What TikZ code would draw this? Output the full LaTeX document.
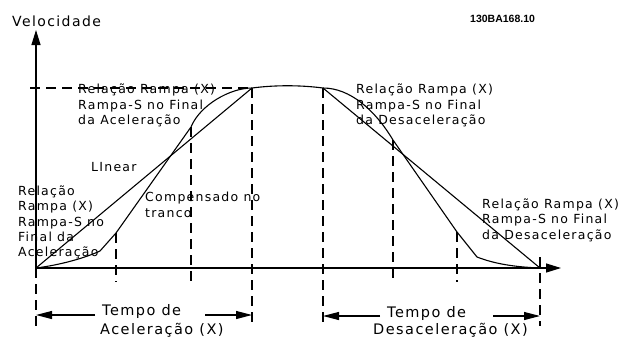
\documentclass[tikz,border=0pt]{standalone}
\usepackage{fontspec}
\setmainfont{DejaVu Sans}[LetterSpace=10]
\newfontfamily\codefont{Liberation Sans}
\usetikzlibrary{arrows.meta}
\begin{document}
\begin{tikzpicture}[x=1pt,y=-1pt,
  axis/.style={line width=1.2pt,-{Triangle[length=15pt,width=9pt]}},
  curve/.style={line width=1.1pt,line join=round},
  guide/.style={line width=1.1pt,dash pattern=on 10pt off 6pt},
  dim/.style={line width=1.1pt,-{Triangle[length=16pt,width=8pt]}},
  lbl/.style={font=\fontsize{12.5}{15.3}\selectfont,align=left,anchor=north west,inner sep=0pt},
  big/.style={font=\fontsize{14.5}{19.5}\selectfont,align=left,anchor=north west,inner sep=0pt}]
\useasboundingbox (0,0) rectangle (623,338);
% key points
\coordinate (O) at (36,268);
\coordinate (Ytop) at (36,30);
\coordinate (Xend) at (561,268);
\coordinate (A) at (252,88);
\coordinate (D) at (323,88);
\coordinate (E) at (540,268);
\coordinate (Hs) at (30,88);
\coordinate (a1) at (100,251);
\coordinate (a2) at (116,233);
\coordinate (a3) at (191,127);
\coordinate (d1) at (393,140);
\coordinate (d2) at (457,232);
\coordinate (d3) at (477,257);
% guide bottoms
\coordinate (Ob) at (36,326);
\coordinate (a2b) at (116,282);
\coordinate (a3b) at (191,282);
\coordinate (Ab) at (252,324);
\coordinate (Db) at (323,326);
\coordinate (d1b) at (393,282);
\coordinate (d2b) at (457,282);
\coordinate (Eb) at (540,326);
\coordinate (Et) at (540,257);
% dimension coordinates
\coordinate (L1) at (36,315);
\coordinate (L1s) at (95,315);
\coordinate (L2) at (252,315);
\coordinate (L2s) at (205,315);
\coordinate (R1) at (323,316);
\coordinate (R1s) at (380,316);
\coordinate (R2) at (540,316);
\coordinate (R2s) at (493,316);

% axes
\draw[axis] (O) -- (Ytop);
\draw[axis] (O) -- (Xend);
% guides
\draw[guide] (Hs) -- (A);
\draw[guide] (O) -- (Ob);
\draw[guide] (a2) -- (a2b);
\draw[guide] (a3) -- (a3b);
\draw[guide] (A) -- (Ab);
\draw[guide] (D) -- (Db);
\draw[guide] (d1) -- (d1b);
\draw[guide] (d2) -- (d2b);
\draw[guide] (Et) -- (Eb);
% linear ramps
\draw[curve] (O) -- (A);
\draw[curve] (D) -- (E);
% S ramps
\draw[curve] (O) .. controls (60,265) and (85,258) .. (a1) -- (a2) -- (a3)
  .. controls (200,105) and (230,88) .. (A)
  .. controls (275,85) and (300,85) .. (D)
  .. controls (350,88) and (375,110) .. (d1) -- (d2) -- (d3)
  .. controls (495,264) and (515,267) .. (E);
% dimension arrows
\draw[dim] (L1s) -- (L1);
\draw[dim] (L2s) -- (L2);
\draw[dim] (R1s) -- (R1);
\draw[dim] (R2s) -- (R2);

% texts
\node[font=\fontsize{14}{16}\selectfont,anchor=base west,inner sep=0pt] (vel) at (12,26) {Velocidade};
\node[font=\codefont\bfseries\fontsize{10.5}{13}\selectfont,anchor=base west,inner sep=0pt] (code) at (470,22) {130BA168.10};
\node[lbl] (t1) at (78,84) {Relação Rampa (X)\\Rampa-S no Final\\da Aceleração};
\node[lbl] (t2) at (356,84) {Relação Rampa (X)\\Rampa-S no Final\\da Desaceleração};
\node[lbl,anchor=base west] (lin) at (91,171.5) {LInear};
\node[lbl] (t4) at (18,185.5) {Relação\\Rampa (X)\\Rampa-S no\\Final da\\Aceleração};
\node[lbl] (t5) at (145,192) {Compensado no\\tranco};
\node[lbl] (t6) at (482,198.5) {Relação Rampa (X)\\Rampa-S no Final\\da Desaceleração};
\node[big] (ta) at (100,304) {\hspace*{2pt}Tempo de\\Aceleração (X)};
\node[big,font=\fontsize{14.5}{17.5}\selectfont] (td) at (373,306) {\hspace*{14pt}Tempo de\\Desaceleração (X)};
\end{tikzpicture}
\end{document}
